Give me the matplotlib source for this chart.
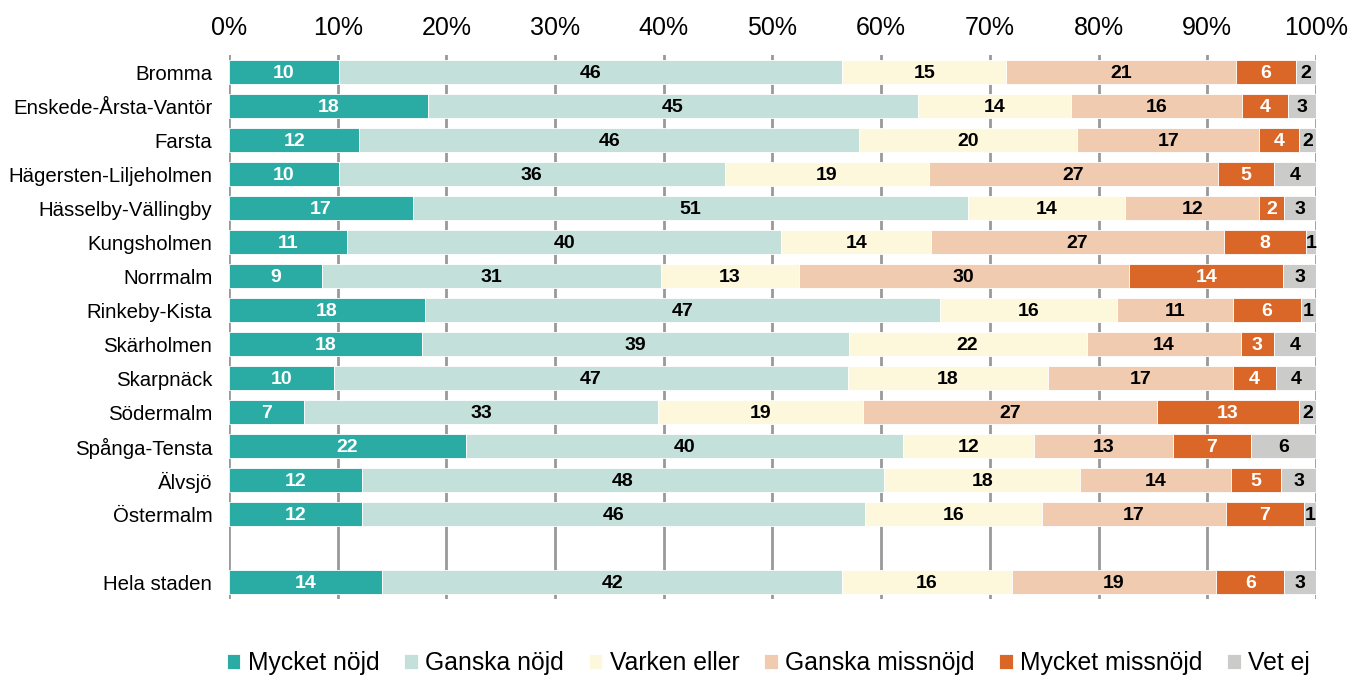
import matplotlib.pyplot as plt
import numpy as np

plt.rcParams['font.family'] = ['Liberation Sans', 'DejaVu Sans']

omraden = ['Bromma', 'Enskede-Årsta-Vantör', 'Farsta', 'Hägersten-Liljeholmen',
           'Hässelby-Vällingby', 'Kungsholmen', 'Norrmalm', 'Rinkeby-Kista',
           'Skärholmen', 'Skarpnäck', 'Södermalm', 'Spånga-Tensta', 'Älvsjö',
           'Östermalm', 'Hela staden']

kategorier = ['Mycket nöjd', 'Ganska nöjd', 'Varken eller',
              'Ganska missnöjd', 'Mycket missnöjd', 'Vet ej']

mycket_nojd = [10.1, 18.3, 12.0, 10.1, 16.9, 10.9, 8.6, 18.0, 17.8, 9.7, 6.9, 21.8, 12.2, 12.2, 14.1]
ganska_nojd = [46.3, 45.1, 46.0, 35.5, 51.1, 39.9, 31.1, 47.4, 39.2, 47.2, 32.6, 40.2, 48.1, 46.3, 42.3]
varken = [15.1, 14.1, 20.0, 18.8, 14.4, 13.8, 12.7, 16.3, 21.9, 18.4, 18.8, 12.1, 18.0, 16.3, 15.6]
ganska_missnojd = [21.1, 15.7, 16.8, 26.6, 12.4, 26.9, 30.4, 10.7, 14.2, 17.1, 27.1, 12.7, 13.9, 16.9, 18.8]
mycket_missnojd = [5.6, 4.2, 3.6, 5.1, 2.3, 7.6, 14.2, 6.2, 3.0, 3.9, 13.0, 7.2, 4.6, 7.2, 6.3]
vet_ej = [1.8, 2.6, 1.6, 3.9, 2.9, 0.9, 3.0, 1.4, 3.9, 3.7, 1.6, 6.0, 3.2, 1.1, 2.9]

serier = [mycket_nojd, ganska_nojd, varken, ganska_missnojd, mycket_missnojd, vet_ej]
farger = ['#2AABA3', '#C4E0DB', '#FDF8DC', '#F0CBAF', '#DA6728', '#CBCBCA']
textfarg = ['white', 'black', 'black', 'black', 'white', 'black']

# rad 14 lämnas tom före "Hela staden"
ypos = np.array(list(range(14)) + [15])

fig = plt.figure(figsize=(13.65, 6.77), dpi=100)
ax = fig.add_axes([229 / 1365, 1 - 599 / 677, 1087 / 1365, 544 / 677])

vanster = np.zeros(len(omraden))
for serie, farg, tf, namn in zip(serier, farger, textfarg, kategorier):
    v = np.array(serie)
    ax.barh(ypos, v, left=vanster, height=0.7, color=farg, edgecolor='white',
            linewidth=0.6, label=namn, zorder=3)
    for y, l, w in zip(ypos, vanster, v):
        ax.text(l + w / 2, y + 0.03, f'{w:.0f}', ha='center', va='center',
                color=tf, fontsize=14, fontweight='bold', zorder=4)
    vanster += v

ax.set_xlim(0, 100)
ax.set_ylim(15.5, -0.5)
ax.set_xticks(np.arange(0, 101, 10))
ax.set_xticklabels([f'{t}%' for t in range(0, 101, 10)], fontsize=18)
ax.xaxis.tick_top()
ax.tick_params(axis='x', length=0, pad=11)
ax.set_yticks(ypos)
ax.set_yticklabels(omraden, fontsize=14.7)
ax.tick_params(axis='y', length=0, pad=12)
ax.grid(axis='x', color='#999999', linewidth=2, zorder=0)
for s in ax.spines.values():
    s.set_visible(False)

fig.legend(loc='lower center', bbox_to_anchor=(0.563, -0.03), ncol=6,
           frameon=False, fontsize=17.8, handlelength=0.55, handleheight=0.55,
           handletextpad=0.3, columnspacing=1.0)

plt.savefig('out.png', dpi=100)
